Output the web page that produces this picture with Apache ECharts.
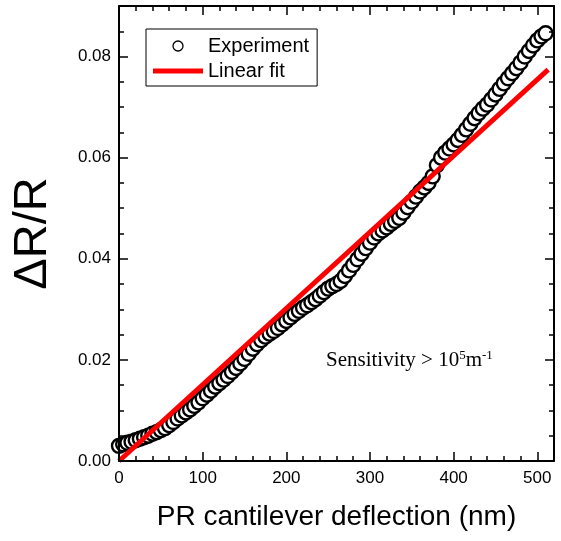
<!DOCTYPE html>
<html><head><meta charset="utf-8">
<script src="https://cdn.jsdelivr.net/npm/echarts@6/dist/echarts.min.js"></script>
<style>html,body{margin:0;padding:0;background:#fff}#c{width:561px;height:541px}</style>
</head><body><div id="c"></div>
<script>
// ---- data ----
const deflection = [
  0,5,10,15,20,25,30,35,40,45,
  50,55,60,65,70,75,80,85,90,95,
  100,105,110,115,120,125,130,135,140,145,
  150,155,160,165,170,175,180,185,190,195,
  200,205,210,215,220,225,230,235,240,245,
  250,255,260,265,270,275,280,285,290,295,
  300,305,310,315,320,325,330,335,340,345,
  350,355,360,365,370,375,380,385,390,395,
  400,405,410,415,420,425,430,435,440,445,
  450,455,460,465,470,475,480,485,490,495,
  500,505,510
];
const dRR = [
  0.0030,0.0033,0.0036,0.0038,0.0041,0.0044,0.0047,0.0050,0.0054,0.0057,
  0.0061,0.0065,0.0071,0.0077,0.0084,0.0090,0.0096,0.0102,0.0109,0.0116,
  0.0124,0.0131,0.0139,0.0147,0.0154,0.0161,0.0168,0.0176,0.0184,0.0193,
  0.0202,0.0212,0.0222,0.0231,0.0239,0.0246,0.0252,0.0257,0.0263,0.0270,
  0.0277,0.0284,0.0291,0.0297,0.0303,0.0308,0.0314,0.0320,0.0327,0.0334,
  0.0341,0.0346,0.0350,0.0356,0.0366,0.0377,0.0388,0.0399,0.0410,0.0421,
  0.0432,0.0442,0.0450,0.0456,0.0462,0.0469,0.0475,0.0481,0.0491,0.0502,
  0.0513,0.0523,0.0533,0.0541,0.0550,0.0563,0.0585,0.0600,0.0610,0.0618,
  0.0626,0.0635,0.0645,0.0656,0.0667,0.0678,0.0688,0.0697,0.0705,0.0715,
  0.0725,0.0736,0.0747,0.0757,0.0767,0.0777,0.0788,0.0800,0.0811,0.0822,
  0.0832,0.0840,0.0846
];
const fitX = [0, 513];
const fitY = [0, 0.0774];
const xTickLabels = [0, 100, 200, 300, 400, 500];
const yTickLabels = [0, 0.02, 0.04, 0.06, 0.08];
const seriesNames = ['Experiment', 'Linear fit'];

// ---- chart ----
const SANS = 'Liberation Sans, Arial, sans-serif';
const SERIF = 'Liberation Serif, Times New Roman, serif';
const rect = { left: 119, top: 6, right: 7, bottom: 80 };
const lineStyle = { color: '#000', width: 2 };
const ghostLine = { color: 'rgba(0,0,0,0)', width: 0 };
const tickStyle = { color: '#000', width: 1.5 };

const expData = deflection.map((x, i) => [x, dRR[i]]);
const fitData = fitX.map((x, i) => [x, fitY[i]]);

function isMajorY(v) {
  return yTickLabels.some(t => Math.abs(v - t) < 1e-9);
}

function frameAxis(extra) {
  return Object.assign({
    type: 'value', z: 5,
    axisLine: { show: true, onZero: false, lineStyle },
    axisTick: { show: true, inside: true, length: 5, lineStyle: tickStyle },
    axisLabel: { show: false, inside: false },
    splitLine: { show: false }
  }, extra);
}
function longTickAxis(extra) {
  return Object.assign({
    type: 'value', z: 5,
    axisLine: { show: true, onZero: false, lineStyle: ghostLine },
    axisTick: { show: true, inside: true, length: 9, lineStyle: tickStyle },
    axisLabel: { show: false, inside: false },
    splitLine: { show: false }
  }, extra);
}

const chart = echarts.init(document.getElementById('c'), null, { renderer: 'canvas' });
chart.setOption({
  animation: false,
  backgroundColor: '#fff',
  grid: [
    Object.assign({}, rect),
    Object.assign({}, rect)
  ],
  xAxis: [
    frameAxis({ gridIndex: 0, position: 'bottom', min: 0, max: 520, interval: 20,
      axisLabel: { show: true, margin: 9, color: '#000', fontSize: 17, fontFamily: SANS,
        formatter: v => xTickLabels.indexOf(v) >= 0 ? String(v) : '' },
      name: 'PR cantilever deflection (nm)', nameLocation: 'middle', nameGap: 42,
      nameTextStyle: { fontSize: 28, color: '#000', fontFamily: SANS } }),
    frameAxis({ gridIndex: 0, position: 'top', min: 0, max: 520, interval: 20 }),
    longTickAxis({ gridIndex: 1, position: 'bottom', min: 0, max: 520, interval: 100 }),
    longTickAxis({ gridIndex: 1, position: 'top', min: 0, max: 520, interval: 100 })
  ],
  yAxis: [
    frameAxis({ gridIndex: 0, position: 'left', min: 0, max: 0.09, interval: 0.005,
      axisLabel: { show: true, margin: 8, color: '#000', fontSize: 17, fontFamily: SANS,
        formatter: v => isMajorY(v) ? v.toFixed(2) : '' },
      name: 'ΔR/R', nameLocation: 'middle', nameGap: 62, nameRotate: 90,
      nameTextStyle: { fontSize: 47, color: '#000', fontFamily: SANS } }),
    frameAxis({ gridIndex: 0, position: 'right', min: 0, max: 0.09, interval: 0.005 }),
    longTickAxis({ gridIndex: 1, position: 'left', min: 0, max: 0.09, interval: 0.02 }),
    longTickAxis({ gridIndex: 1, position: 'right', min: 0, max: 0.09, interval: 0.02 })
  ],
  legend: {
    orient: 'vertical', left: 146, top: 29,
    itemWidth: 50, itemHeight: 10, itemGap: 5,
    padding: [7, 8, 5, 7],
    borderColor: '#000', borderWidth: 1, borderRadius: 0,
    backgroundColor: '#fff',
    textStyle: { fontSize: 20, color: '#000', fontFamily: SANS },
    data: [
      { name: seriesNames[0], icon: 'circle',
        itemStyle: { color: '#fff', borderColor: '#000', borderWidth: 1.3 } },
      { name: seriesNames[1],
        icon: 'path://M0,0L0,0M50,10L50,10M0,2.5L50,2.5L50,7.5L0,7.5Z',
        itemStyle: { color: '#ff0000', borderWidth: 0 } }
    ]
  },
  series: [
    { name: seriesNames[0], type: 'scatter', xAxisIndex: 0, yAxisIndex: 0,
      data: expData, symbol: 'circle', symbolSize: 14, z: 2,
      itemStyle: { color: '#fff', borderColor: '#000', borderWidth: 2.4, opacity: 1 } },
    { name: seriesNames[1], type: 'line', xAxisIndex: 0, yAxisIndex: 0,
      data: fitData, symbol: 'none', showSymbol: false, z: 3, color: '#ff0000',
      lineStyle: { color: '#ff0000', width: 5 } }
  ],
  graphic: [
    { type: 'text', left: 326, top: 347, z: 10,
      style: {
        text: '{n|Sensitivity > 10}{s|5}{n|m}{s|-1}',
        fill: '#000',
        rich: {
          n: { fontSize: 21, fontFamily: SERIF, lineHeight: 24, verticalAlign: 'bottom', fill: '#000' },
          s: { fontSize: 13, fontFamily: SERIF, lineHeight: 13, verticalAlign: 'top', padding: [2, 0, 0, 0], fill: '#000' }
        }
      } }
  ]
});
</script>
</body></html>
